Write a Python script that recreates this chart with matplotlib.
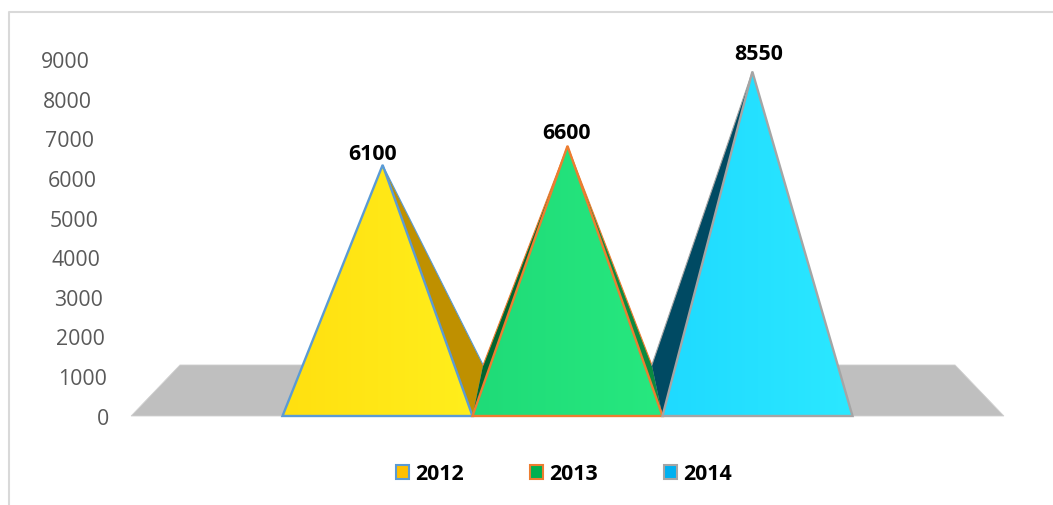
import numpy as np
import matplotlib
matplotlib.use("Agg")
import matplotlib.pyplot as plt
from matplotlib.patches import Patch, Polygon

categories = ["2012", "2013", "2014"]
values = [6100, 6600, 8550]
tick_values = [0, 1000, 2000, 3000, 4000, 5000, 6000, 7000, 8000, 9000]

front_colors = [("#FFE010", "#FFEE1C"), ("#1FDB78", "#27E87F"), ("#1FDAFF", "#2BE8FF")]
back_colors = ["#BF9000", "#00662F", "#004A63"]
side_colors = ["#BF9000", "#0B8A40", "#004A63"]
legend_colors = ["#FFC000", "#00B050", "#00B0F0"]
edge_colors = ["#5B9BD5", "#ED7D31", "#A5A5A5"]

W, H = 1053, 506
PX_X = 190.0       # pixels per category
PX_Y = 0.0396      # pixels per value unit on the axis
CX, Y0 = 567.5, 417.0

# 3d look of the chart
DEPTH_UP = 1288    # floor back edge in axis units
DEPTH_SCALE = 0.888
APEX_SCALE = 0.9617
APEX_UP = 472
APEX_X = 0.973
FLOOR_HALF = 2.297

fig = plt.figure(figsize=(W / 100, H / 100), dpi=100)
ax = fig.add_axes([0, 0, 1, 1])
ax.axis("off")


def back(x):
    return 1 + (x - 1) * DEPTH_SCALE


# floor
ax.add_patch(Polygon([(1 - FLOOR_HALF, 0), (1 + FLOOR_HALF, 0),
                      (back(1 + FLOOR_HALF), DEPTH_UP), (back(1 - FLOOR_HALF), DEPTH_UP)],
                     closed=True, fc="#BFBFBF", ec="#D0D0D0", lw=0.6, zorder=1))

for i, v in enumerate(values):
    left, right = i - 0.5, i + 0.5
    apex = (1 + (i - 1) * APEX_X, v * APEX_SCALE + APEX_UP)
    # back faces peek out beside the front one
    ax.add_patch(Polygon([(left, 0), (back(left), DEPTH_UP), apex], closed=True,
                         fc=back_colors[i], ec="none", zorder=2 + i))
    ax.add_patch(Polygon([(right, 0), (back(right), DEPTH_UP), apex], closed=True,
                         fc=side_colors[i], ec="none", zorder=2 + i))
    ax.plot([back(left), apex[0], back(right)], [DEPTH_UP, apex[1], DEPTH_UP],
            color=edge_colors[i], lw=0.8, zorder=2 + i)

    # front face with a faint gradient
    c0, c1 = [np.array(matplotlib.colors.to_rgb(c)) for c in front_colors[i]]
    t = np.linspace(0, 1, 64)[None, :, None]
    grad = c0[None, None, :] * (1 - t) + c1[None, None, :] * t
    front = Polygon([(left, 0), (right, 0), apex], closed=True, fc="none",
                    ec=edge_colors[i], lw=1.7, joinstyle="miter", zorder=5 + i)
    ax.add_patch(front)
    im = ax.imshow(grad, extent=(left, right, 0, apex[1]), aspect="auto",
                   zorder=4 + i, interpolation="bilinear")
    im.set_clip_path(front)

ax.set_xlim((0 - CX) / PX_X + 1, (W - CX) / PX_X + 1)
ax.set_ylim(-(H - Y0) / PX_Y, Y0 / PX_Y)

# data labels
label_dx = [-4.5, -1, 1]
label_dy = [12, 13, 18]
for i, v in enumerate(values):
    ax.annotate(str(v), (i, v * APEX_SCALE + APEX_UP), xytext=(label_dx[i] * 0.72, label_dy[i] * 0.72),
                textcoords="offset points", ha="center", va="center",
                fontsize=15.4, fontweight="bold", family="Open Sans", color="black", zorder=20)

# axis labels lean with the floor
for t in tick_values:
    ax.annotate(str(t), (1 - FLOOR_HALF, t), xytext=((109 - t * 0.0021 - 131) * 0.72, -1.5),
                textcoords="offset points", ha="right", va="center",
                fontsize=15.3, family="Open Sans", color="#595959")

# chart frame, only top and left show
fig.add_artist(plt.Line2D([9 / W, 9 / W, 1], [0, 1 - 13 / H, 1 - 13 / H],
                          color="#D9D9D9", lw=1.5))

handles = [Patch(fc=legend_colors[i], ec=edge_colors[i], lw=1.5) for i in range(3)]
fig.legend(handles, categories, loc="center", bbox_to_anchor=(564 / W, 1 - 475 / H), ncol=3,
           frameon=False, handlelength=0.6, handleheight=0.6, handletextpad=0.3,
           columnspacing=3.1, prop={"family": "Open Sans", "weight": "bold", "size": 15.4})

fig.savefig("out.png", dpi=100)
